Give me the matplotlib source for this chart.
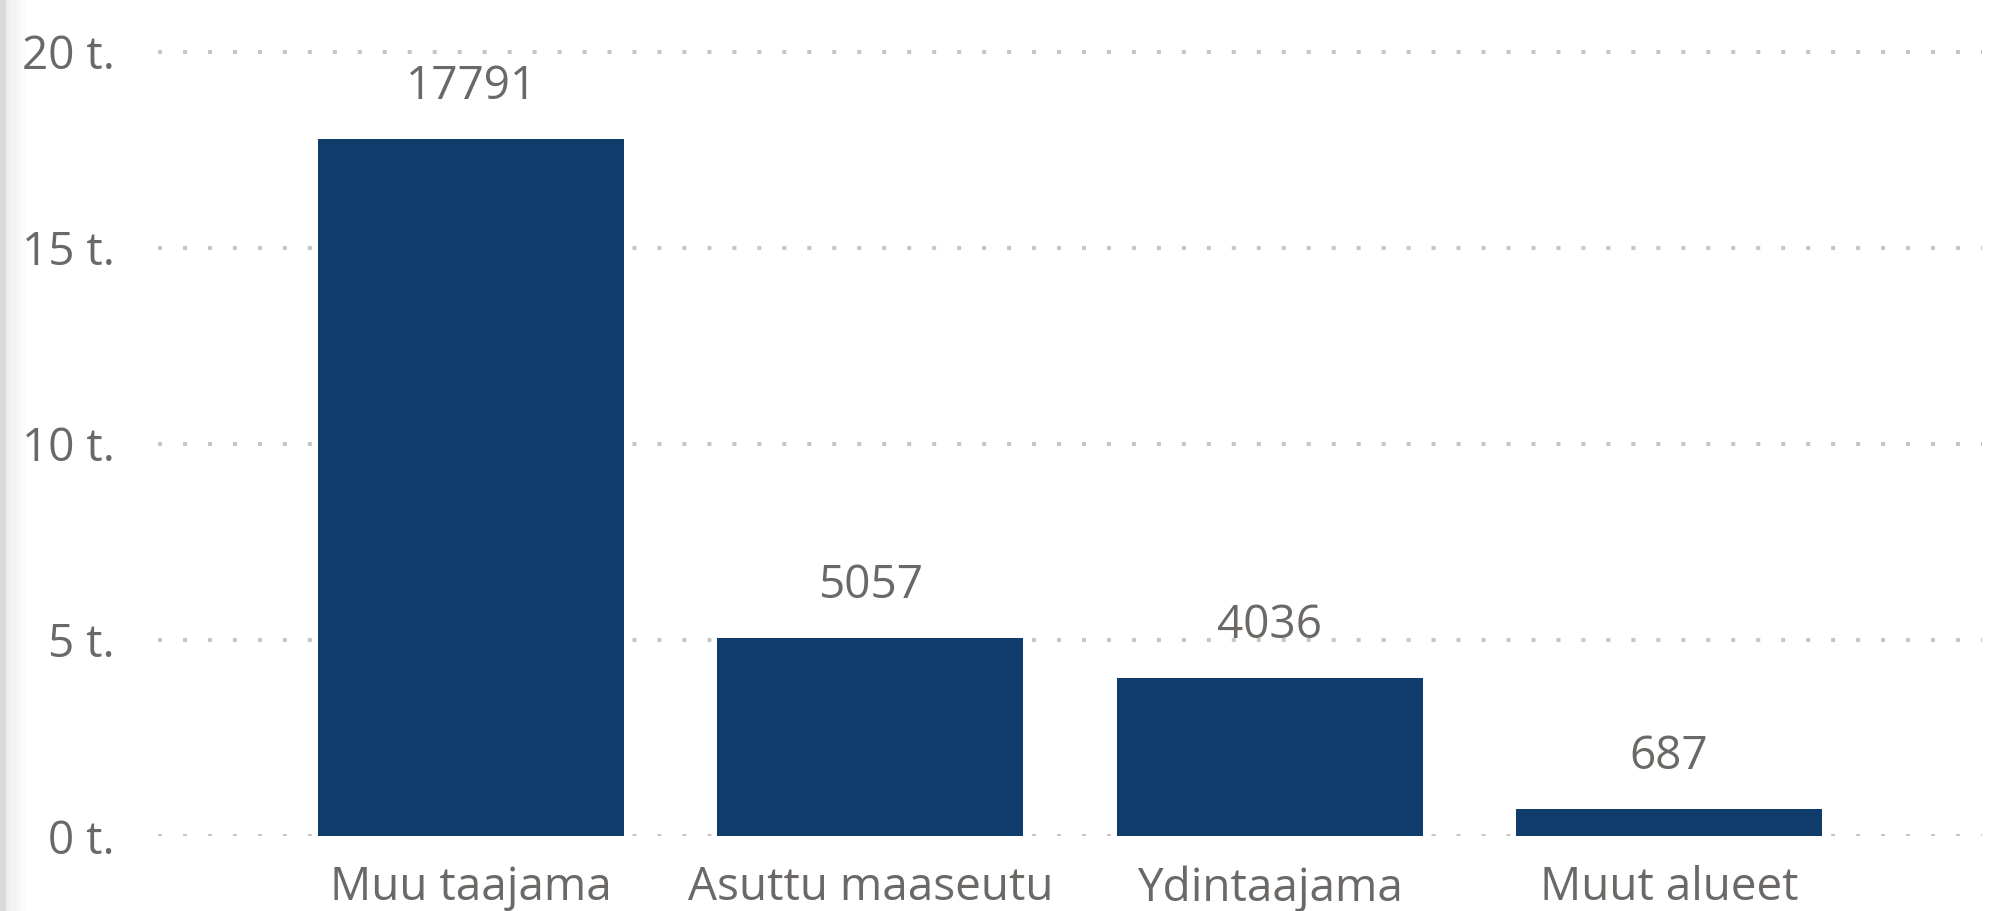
"""Population by area type: bar chart."""

import matplotlib.pyplot as plt
import numpy as np
from matplotlib.ticker import FuncFormatter, MultipleLocator

categories = ["Muu taajama", "Asuttu maaseutu", "Ydintaajama", "Muut alueet"]
values = [17791, 5057, 4036, 687]

BAR_COLOR = "#103c6c"
TEXT_COLOR = "#6b6865"
GRID_COLOR = "#c8c6c4"

plt.rcParams["font.family"] = ["Open Sans", "DejaVu Sans"]

fig = plt.figure(figsize=(19.92, 9.11), dpi=100)

# grey fade at the left edge: thin solid strip, then a soft fade to white
edge = fig.add_axes([0, 0, 28 / 1992, 1])
shade = np.concatenate([np.full(6, 0.85), np.linspace(0.93, 1.0, 22)])
edge.imshow(shade[None, :], aspect="auto", cmap="gray", vmin=0, vmax=1,
            extent=[0, 1, 0, 1], interpolation="nearest")
edge.axis("off")

ax = fig.add_axes([158 / 1992, 75 / 911, (1982 - 158) / 1992, (836 - 32) / 911])
x = np.arange(len(categories))
ax.bar(x, values, width=0.767, color=BAR_COLOR, zorder=2)

for xi, v in zip(x, values):
    ax.annotate(f"{v}", (xi, v), xytext=(0, 40), textcoords="offset pixels",
                ha="center", va="baseline", fontsize=33, color=TEXT_COLOR)

ax.set_xlim(-0.784, 3.784)
ax.set_ylim(0, 20510)
ax.yaxis.set_major_locator(MultipleLocator(5000))
ax.yaxis.set_major_formatter(FuncFormatter(lambda v, _: f"{v / 1000:.0f} t."))
ax.set_xticks(x)
ax.set_xticklabels(categories)

ax.grid(axis="y", color=GRID_COLOR, linewidth=2.9, linestyle=(0, (1, 5.2)), zorder=0)
ax.set_axisbelow(True)
for s in ax.spines.values():
    s.set_visible(False)
ax.tick_params(axis="both", length=0, labelsize=33, labelcolor=TEXT_COLOR)
ax.tick_params(axis="y", pad=31)
ax.tick_params(axis="x", pad=21)

fig.savefig("out.png", dpi=100)
